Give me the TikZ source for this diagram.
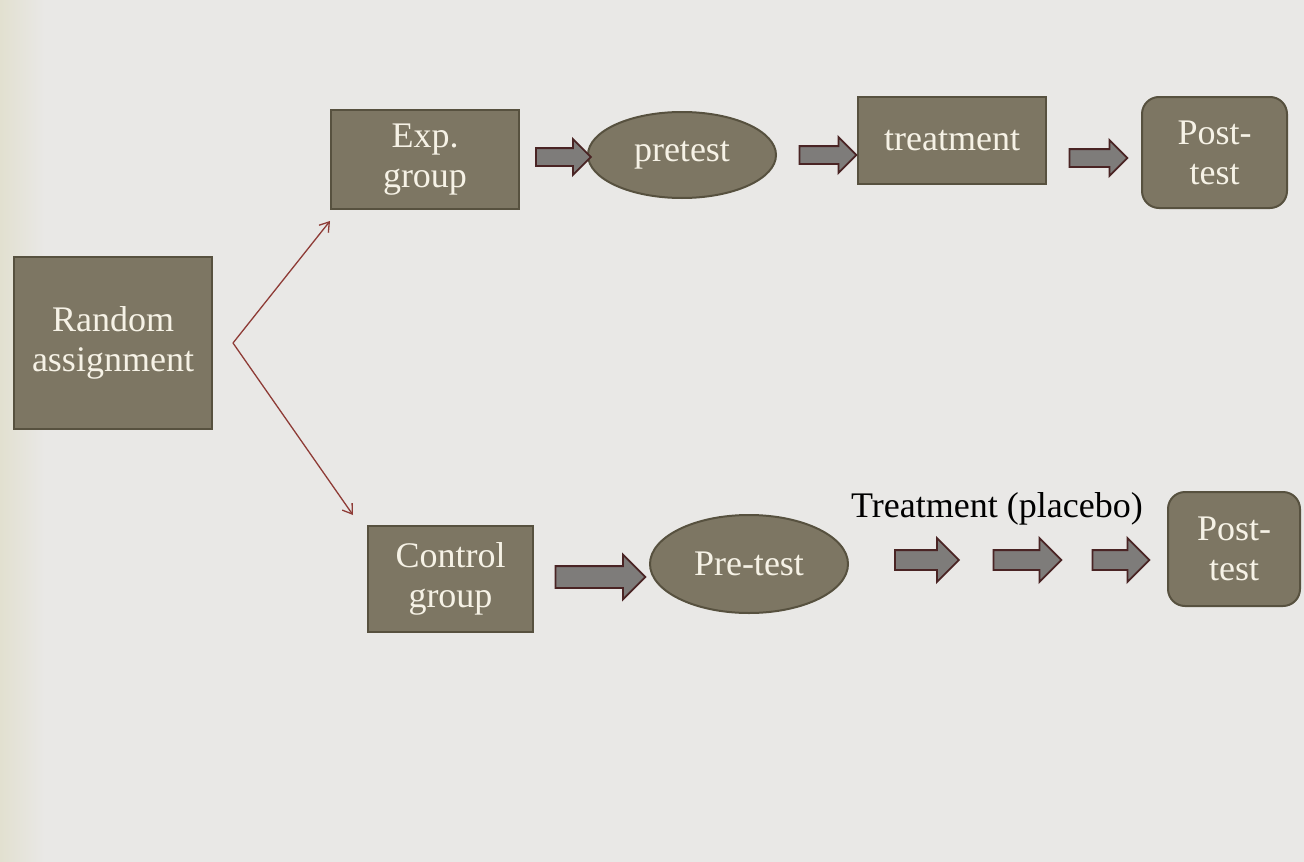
\documentclass[tikz,border=0pt]{standalone}
\usepackage{fontspec}
\setmainfont{Liberation Serif}
\usetikzlibrary{shapes.geometric,shapes.arrows,arrows.meta}
\definecolor{bgcol}{HTML}{E9E8E6}
\definecolor{edgecol}{HTML}{E2E0D0}
\definecolor{boxfill}{HTML}{7D7663}
\definecolor{boxline}{HTML}{57513F}
\definecolor{txtcol}{HTML}{F6F2E6}
\definecolor{arrfill}{HTML}{7E7C7A}
\definecolor{arrline}{HTML}{4A2424}
\definecolor{linkcol}{HTML}{8E3B36}
\tikzset{
  x=1pt, y=-1pt,
  lbl/.style={font=\fontsize{36}{40}\selectfont, align=center},
  stage/.style={lbl, draw=boxline, line width=2pt, fill=boxfill, text=txtcol, inner sep=0pt},
  boxnode/.style={stage, rectangle},
  roundnode/.style={stage, rectangle, rounded corners=17pt},
  ovalnode/.style={stage, ellipse},
  blockarrow/.style={shape=single arrow, draw=arrline, line width=1.8pt, fill=arrfill,
    inner xsep=0pt, shape border rotate=0},
  link/.style={draw=linkcol, line width=1.3pt, -{Straight Barb[length=9pt,width=12pt]}}
}
\begin{document}
\begin{tikzpicture}
% backdrop
\fill[bgcol] (0,0) rectangle (1304,862);
\shade[left color=edgecol, right color=bgcol] (0,0) rectangle (45,862);

% experimental branch
\node[boxnode, minimum width=198pt, minimum height=172pt] (rand) at (113,343) {Random\\assignment};
\node[boxnode, minimum width=188pt, minimum height=99pt] (exp) at (425,159.5) {Exp.\\group};
\node[ovalnode, minimum width=188pt, minimum height=86pt] (pre1) at (682,155) {pretest};
\node[boxnode, minimum width=188pt, minimum height=87pt] (treat) at (952,140.5) {treatment};
\node[roundnode, minimum width=145pt, minimum height=111pt] (post1) at (1214.5,152.5) {Post-\\test};

% control branch
\node[boxnode, minimum width=165pt, minimum height=106pt] (ctrl) at (450.5,579) {Control\\group};
\node[ovalnode, minimum width=198pt, minimum height=98pt] (pre2) at (749,564) {Pre-test};
\node[roundnode, minimum width=132pt, minimum height=114pt] (post2) at (1234,549) {Post-\\test};
\node[lbl, text=black] (plac) at (997,509) {Treatment (placebo)};

% block arrows, top row
\node[blockarrow, minimum height=55pt, inner ysep=8pt, single arrow head extend=9pt] (a1) at (559,157) {};
\node[blockarrow, minimum height=57pt, inner ysep=8pt, single arrow head extend=9pt] (a2) at (823.5,155) {};
\node[blockarrow, minimum height=58pt, inner ysep=8pt, single arrow head extend=9pt] (a3) at (1094,158) {};

% block arrows, bottom row
\node[blockarrow, minimum height=90pt, inner ysep=10pt, single arrow head extend=11.5pt] (b1) at (595,577) {};
\node[blockarrow, minimum height=64pt, inner ysep=9pt, single arrow head extend=12pt] (b2) at (922,560) {};
\node[blockarrow, minimum height=68pt, inner ysep=9pt, single arrow head extend=12pt] (b3) at (1022.5,560) {};
\node[blockarrow, minimum height=57pt, inner ysep=9pt, single arrow head extend=12pt] (b4) at (1116,560) {};

% random split
\coordinate (fork) at (233,343);
\coordinate (expin) at (330,221);
\coordinate (ctrlin) at (353,515);
\draw[link] (fork) -- (expin);
\draw[link] (fork) -- (ctrlin);
\end{tikzpicture}
\end{document}
